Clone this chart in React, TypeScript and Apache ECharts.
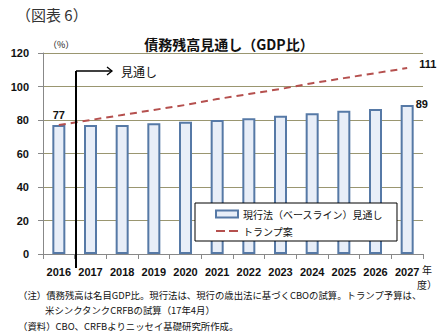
import React, { useEffect, useRef } from "react";
import * as echarts from "echarts";

const years = ["2016", "2017", "2018", "2019", "2020", "2021", "2022", "2023", "2024", "2025", "2026", "2027"];
const baseline = [77, 77, 77, 78, 79, 80, 81, 82.5, 84, 85.5, 86.5, 89];
const trump = [77, 80, 83, 86, 89, 92.5, 95.5, 98.5, 102, 105, 108, 111];
const yTicks = [0, 20, 40, 60, 80, 100, 120];

const JP = "'Noto Sans CJK JP', sans-serif";
const NUM = "'Liberation Sans', Arial, sans-serif";

export default function App() {
  const ref = useRef<HTMLDivElement>(null);
  useEffect(() => {
    if (!ref.current) return;
    const chart = echarts.init(ref.current, undefined, { renderer: "svg" });
    const barData = baseline.map((v, i) => {
      if (i === 0) {
        return { value: v, label: { show: true, position: "top", distance: 5 } };
      }
      if (i === baseline.length - 1) {
        return {
          value: v,
          label: { show: true, position: ["100%", 0], align: "left", verticalAlign: "middle", offset: [2, -1] },
        };
      }
      return v;
    });
    const lineData = trump.map((v, i) =>
      i === trump.length - 1
        ? { value: v, label: { show: true, position: "right", distance: 12, offset: [0, -4] } }
        : v
    );
    chart.setOption({
      animation: false,
      textStyle: { fontFamily: JP },
      grid: { left: 43, right: 18, top: 53, bottom: 81 },
      legend: {
        left: 195,
        top: 203,
        orient: "vertical",
        backgroundColor: "#fff",
        borderColor: "#000",
        borderWidth: 1,
        borderRadius: 0,
        padding: [6, 14, 5, 20],
        itemGap: 7,
        itemWidth: 22,
        itemHeight: 7,
        textStyle: { fontSize: 10, fontFamily: JP, color: "#111" },
        data: [
          { name: "現行法（ベースライン）見通し", icon: "rect" },
          { name: "トランプ案", icon: "path://M0,0H9V2H0Z M13,0H22V2H13Z" },
        ],
      },
      xAxis: {
        type: "category",
        data: years,
        boundaryGap: true,
        axisLine: { lineStyle: { color: "#888", width: 1 } },
        axisTick: { show: true, length: 5, alignWithLabel: false, interval: 0, lineStyle: { color: "#888" } },
        axisLabel: { interval: 0, fontFamily: NUM, fontWeight: "bold", fontSize: 11, color: "#111", margin: 12 },
      },
      yAxis: {
        type: "value",
        min: 0,
        max: 120,
        interval: 20,
        axisLine: { show: true, lineStyle: { color: "#888" } },
        axisTick: { show: true, length: 5, lineStyle: { color: "#888" } },
        axisLabel: {
          fontFamily: NUM,
          fontWeight: "bold",
          fontSize: 11,
          color: "#111",
          margin: 14,
          formatter: (v: number) => (yTicks.includes(v) ? String(v) : ""),
        },
        splitLine: { show: true, lineStyle: { color: "#9a9670", width: 1 } },
      },
      series: [
        {
          name: "現行法（ベースライン）見通し",
          type: "bar",
          data: barData,
          barWidth: 13,
          itemStyle: { color: "#e8eef8", borderColor: "#5679a6", borderWidth: 2 },
          label: {
            show: false,
            fontFamily: NUM,
            fontWeight: "bold",
            fontSize: 11,
            color: "#111",
            formatter: (p: any) => String(Math.round(p.value)),
          },
        },
        {
          name: "トランプ案",
          type: "line",
          data: lineData,
          symbol: "circle",
          symbolSize: 0.01,
          showSymbol: true,
          itemStyle: { color: "#b5504e" },
          lineStyle: { color: "#b5504e", width: 2, type: [7, 5] },
          label: {
            show: false,
            fontFamily: NUM,
            fontWeight: "bold",
            fontSize: 11,
            color: "#111",
            formatter: (p: any) => String(Math.round(p.value)),
          },
          z: 3,
        },
      ],
      graphic: [
        { type: "text", x: 16, y: 14, style: { text: "（図表 6）", font: `15px ${JP}`, fill: "#333", verticalAlign: "middle" } },
        {
          type: "text",
          x: 229,
          y: 44,
          style: { text: "債務残高見通し（GDP比）", font: `bold 14px ${JP}`, fill: "#111", align: "center", verticalAlign: "middle" },
        },
        { type: "text", x: 48, y: 44, style: { text: "（%）", font: `9px ${JP}`, fill: "#111", verticalAlign: "middle" } },
        { type: "line", shape: { x1: 76, y1: 71, x2: 76, y2: 268 }, style: { stroke: "#000", lineWidth: 2 }, z: 10 },
        { type: "line", shape: { x1: 76, y1: 71, x2: 112, y2: 71 }, style: { stroke: "#000", lineWidth: 1.3 }, z: 10 },
        { type: "polyline", shape: { points: [[107, 67], [112, 71], [107, 75]] }, style: { stroke: "#000", lineWidth: 1.3, fill: "none" }, z: 10 },
        { type: "text", x: 121, y: 71, style: { text: "見通し", font: `12px ${JP}`, fill: "#111", verticalAlign: "middle" }, z: 10 },
        { type: "text", x: 422, y: 269, style: { text: "年", font: `10px ${JP}`, fill: "#111", verticalAlign: "middle" } },
        { type: "text", x: 417, y: 284, style: { text: "度）", font: `10px ${JP}`, fill: "#111", verticalAlign: "middle" } },
        {
          type: "text",
          x: 18,
          y: 295,
          style: {
            text: "（注）債務残高は名目GDP比。現行法は、現行の歳出法に基づくCBOの試算。トランプ予算は、",
            font: `9.4px ${JP}`,
            fill: "#111",
            verticalAlign: "middle",
          },
        },
        {
          type: "text",
          x: 45,
          y: 310,
          style: { text: "米シンクタンクCRFBの試算（17年4月）", font: `9.4px ${JP}`, fill: "#111", verticalAlign: "middle" },
        },
        {
          type: "text",
          x: 18,
          y: 326,
          style: { text: "（資料）CBO、CRFBよりニッセイ基礎研究所作成。", font: `9.4px ${JP}`, fill: "#111", verticalAlign: "middle" },
        },
      ],
    });
    return () => chart.dispose();
  }, []);
  return <div ref={ref} style={{ width: 441, height: 335, position: "absolute", left: 0, top: 0 }} />;
}
